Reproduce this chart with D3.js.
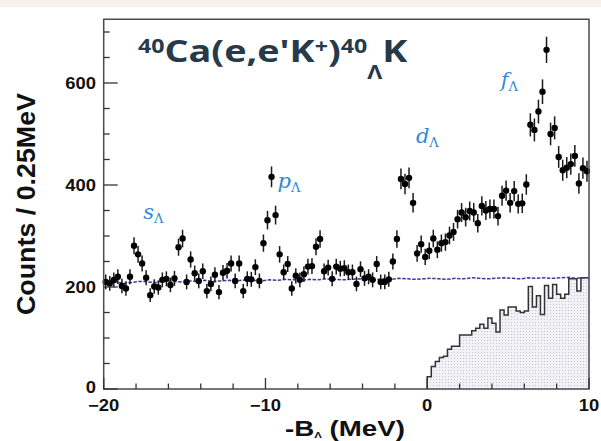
<!DOCTYPE html>
<html><head><meta charset="utf-8">
<script src="https://cdn.jsdelivr.net/npm/d3@7"></script>
<style>body{margin:0;background:#fff}svg{display:block}</style>
</head><body>
<svg id="c" width="601" height="441"></svg>
<script>
// ---- data ----
const xDomain = [-20, 10];
const yDomain = [0, 725];
const binWidth = 0.25;            // MeV per bin of the spectrum
const counts = [
 210,207,214,220,202,197,220,281,264,246,
 218,184,201,199,214,216,204,217,278,295,
 210,254,227,212,231,192,206,224,190,228,
 232,246,212,246,192,216,215,239,212,286,
 331,416,341,264,229,245,197,222,214,225,
 240,241,279,294,231,238,216,240,236,237,
 229,229,206,235,217,220,214,245,210,210,
 215,250,294,412,402,414,365,266,284,259,
 271,295,273,286,288,301,308,333,346,337,
 349,346,325,359,350,353,353,339,379,389,
 365,388,363,364,401,518,508,544,583,665,
 500,512,455,429,434,441,457,403,433,427
];
const histStart = 0;               // MeV, first edge of the shaded histogram
const histCounts = [
 24,44,54,62,64,78,84,84,106,106,
 106,114,119,127,119,139,129,112,155,145,
 161,161,153,150,153,201,161,183,146,203,
 178,205,186,178,186,216,216,192,218,218
];
const bgBinWidth = 0.5;
const bgCounts = [
 208,210,207,209,211,210,209,212,211,210,
 212,211,213,211,212,213,212,214,213,212,
 214,213,215,214,213,215,214,216,215,214,
 215,216,215,214,216,215,217,216,215,216,
 217,216,215,217,216,218,217,216,217,218,
 217,216,218,217,218,217,218,219,217,218
];
const xMajorTicks = [-20, -10, 0, 10];
const xTickLabels = ["\u221220", "\u221210", "0", "10"];
const xMinorStep = 2;
const yMajorTicks = [0, 200, 400, 600];
const yTickLabels = ["0", "200", "400", "600"];
const yMinorStep = 50;
const stateNames = ["s", "p", "d", "f"];

// ---- drawing ----
const svg = d3.select("#c");
const x = d3.scaleLinear(xDomain, [103.7, 589]);
const y = d3.scaleLinear(yDomain, [389, 19.25]);

svg.append("rect").attr("x",0).attr("y",0).attr("width",601).attr("height",7).attr("fill","#f6f3ee");

// pattern for the shaded histogram
const defs = svg.append("defs");
const pat = defs.append("pattern").attr("id","dots").attr("width",3).attr("height",3).attr("patternUnits","userSpaceOnUse");
pat.append("rect").attr("width",3).attr("height",3).attr("fill","#f1f1f6");
pat.append("rect").attr("x",1).attr("y",1).attr("width",1).attr("height",1).attr("fill","#c6c6d6");

const hist = histCounts.map((v,k)=>({e: histStart + k*binWidth, v}));
const histEnd = histStart + histCounts.length*binWidth;
const histPts = [{e: histStart, v: 0}, ...hist, {e: histEnd, v: histCounts[histCounts.length-1]}];
svg.append("path")
  .attr("d", d3.area().x(d=>x(d.e)).y0(y(0)).y1(d=>y(d.v)).curve(d3.curveStepAfter)(histPts))
  .attr("fill","url(#dots)");
svg.append("path")
  .attr("d", d3.line().x(d=>x(d.e)).y(d=>y(d.v)).curve(d3.curveStepAfter)(histPts))
  .attr("fill","none").attr("stroke","#333").attr("stroke-width",1.5);

// background estimate line
const bg = bgCounts.map((v,j)=>({c: xDomain[0] + (j+0.5)*bgBinWidth, v}));
const bgPts = [{c: xDomain[0], v: bgCounts[0]}, ...bg, {c: xDomain[1], v: bgCounts[bgCounts.length-1]}];
svg.append("path")
  .attr("d", d3.line().x(d=>x(d.c)).y(d=>y(d.v))(bgPts))
  .attr("fill","none").attr("stroke","#3c3c98").attr("stroke-width",1.5)
  .attr("stroke-dasharray","3.5,1.5");

// data points with Poisson error bars
const pts = counts.map((v,i)=>({c: xDomain[0] + (i+0.5)*binWidth, v, err: Math.sqrt(v)}));
svg.append("g").selectAll("line").data(pts).join("line")
  .attr("x1", d=>x(d.c)).attr("x2", d=>x(d.c))
  .attr("y1", d=>y(d.v - d.err)).attr("y2", d=>y(d.v + d.err))
  .attr("stroke","#1a1a1a").attr("stroke-width",1.5);
svg.append("g").selectAll("circle").data(pts).join("circle")
  .attr("cx", d=>x(d.c)).attr("cy", d=>y(d.v)).attr("r",3.2).attr("fill","#000");

// frame
svg.append("rect").attr("x", x(xDomain[0])).attr("y", y(yDomain[1]))
  .attr("width", x(xDomain[1]) - x(xDomain[0])).attr("height", y(0) - y(yDomain[1]))
  .attr("fill","none").attr("stroke","#4a4a4a").attr("stroke-width",1.5);

// ticks
const tg = svg.append("g").attr("stroke","#333").attr("stroke-width",1.3);
d3.range(yDomain[0], yDomain[1]+1, yMinorStep).forEach(v=>{
  const major = v % 200 === 0;
  tg.append("line").attr("x1", x(xDomain[0])).attr("x2", x(xDomain[0]) + (major?14:6))
    .attr("y1", y(v)).attr("y2", y(v));
});
d3.range(xDomain[0], xDomain[1]+0.01, xMinorStep).forEach(v=>{
  const major = v % 10 === 0;
  tg.append("line").attr("x1", x(v)).attr("x2", x(v))
    .attr("y1", y(0)).attr("y2", y(0) - (major?11:5.5));
});

function fitX(sel, target, anchor){
  const w = sel.node().getBBox().width;
  const s = target / w;
  sel.attr("transform", `translate(${anchor},0) scale(${s},1) translate(${-anchor},0)`);
}
function stretch(sel, s, anchor){
  sel.attr("transform", `translate(${anchor},0) scale(${s},1) translate(${-anchor},0)`);
}

const labFont = "'Liberation Sans', Arial, Helvetica, sans-serif";
yMajorTicks.forEach((v,i)=>{
  const t = svg.append("text").attr("x", 96).attr("y", y(v) + (v === 0 ? 4.5 : 5.8)).attr("text-anchor","end")
    .attr("font-family", labFont).attr("font-weight","bold").attr("font-size",16).attr("fill","#111")
    .text(yTickLabels[i]);
  stretch(t, 1.15, 96);
});
xMajorTicks.forEach((v,i)=>{
  const t = svg.append("text").attr("x", x(v)).attr("y", 411.5).attr("text-anchor","middle")
    .attr("font-family", labFont).attr("font-weight","bold").attr("font-size",16).attr("fill","#111")
    .text(xTickLabels[i]);
  stretch(t, 1.15, x(v));
});

// axis titles
svg.append("text").attr("transform","translate(35,204) rotate(-90)")
  .attr("text-anchor","middle").attr("font-family", labFont).attr("font-weight","bold")
  .attr("font-size",25).attr("fill","#111")
  .attr("textLength",222).attr("lengthAdjust","spacingAndGlyphs")
  .text("Counts / 0.25MeV");

const xt = svg.append("text").attr("x", 285).attr("y", 436.5)
  .attr("font-family", labFont).attr("font-weight","bold").attr("font-size",22).attr("fill","#111");
xt.append("tspan").text("-B");
xt.append("tspan").attr("font-size",9).attr("dy",2).text("\u039B");
xt.append("tspan").attr("dy",-2).text(" (MeV)");
fitX(xt, 120, 285);

// reaction title
const tt = svg.append("text").attr("x",138).attr("y",62)
  .attr("font-family","'Open Sans', sans-serif").attr("font-weight",700)
  .attr("font-size",31).attr("fill","#263a4a");
tt.append("tspan").attr("font-size",19).attr("dy",-9).text("40");
tt.append("tspan").attr("dy",9).text("Ca(e,e'K");
tt.append("tspan").attr("font-size",19).attr("dy",-9).text("+");
tt.append("tspan").attr("dy",9).text(")");
tt.append("tspan").attr("font-size",19).attr("dy",-9).text("40");
tt.append("tspan").attr("font-size",19).attr("dy",26).text("\u039B");
tt.append("tspan").attr("dy",-17).text("K");
fitX(tt, 270, 138);

// shell labels
const shellPos = [[-17.55, 333], [-9.25, 394], [-0.7, 482], [4.55, 592]];
stateNames.forEach((n,i)=>{
  const t = svg.append("text").attr("x", x(shellPos[i][0])).attr("y", y(shellPos[i][1]))
    .attr("font-family","'DejaVu Serif', 'Liberation Serif', serif").attr("fill","#3089d4")
    .attr("font-size",21);
  t.append("tspan").attr("font-style","italic").text(n);
  t.append("tspan").attr("font-size",13).attr("dy",4).text("\u039B");
});
</script>
</body></html>
